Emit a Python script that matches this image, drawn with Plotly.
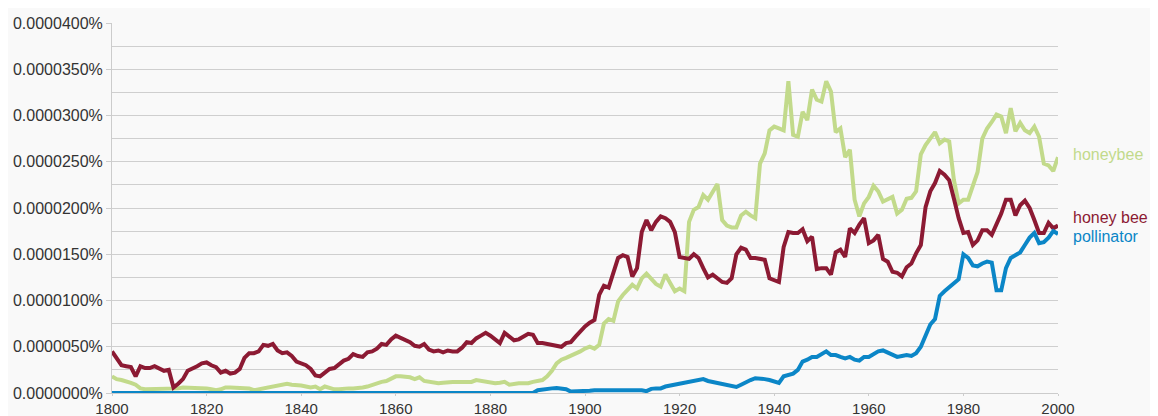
import numpy as np
import plotly.graph_objs as go

# years 1800..2000, values in units of 0.000001 %
years = list(range(1800, 2001))

honeybee = [
    1.8, 1.5, 1.4, 1.3, 1.1, 0.9, 0.5, 0.4, 0.4, 0.4,      # 1800
    0.4, 0.4, 0.4, 0.5, 0.5, 0.6, 0.6, 0.6, 0.6, 0.6,      # 1810
    0.5, 0.4, 0.3, 0.4, 0.6, 0.6, 0.6, 0.6, 0.6, 0.5,      # 1820
    0.3, 0.4, 0.5, 0.6, 0.8, 0.8, 0.9, 1.0, 0.9, 0.9,      # 1830
    0.8, 0.7, 0.6, 0.7, 0.4, 0.7, 0.5, 0.4, 0.4, 0.5,      # 1840
    0.5, 0.5, 0.5, 0.6, 0.7, 0.9, 1.0, 1.2, 1.3, 1.6,      # 1850
    1.8, 1.8, 1.8, 1.7, 1.5, 1.7, 1.3, 1.2, 1.1, 1.05,     # 1860
    1.1, 1.2, 1.2, 1.2, 1.2, 1.1, 1.2, 1.4, 1.3, 1.2,      # 1870
    1.1, 1.05, 1.1, 1.2, 0.9, 1.0, 1.05, 1.05, 1.05, 1.2,  # 1880
    1.3, 1.4, 1.8, 2.4, 3.2, 3.6, 3.8, 4.0, 4.2, 4.5,      # 1890
    4.8, 5.0, 4.8, 5.2, 7.5, 8.0, 7.8, 9.9, 10.6, 11.2,    # 1900
    11.7, 11.3, 12.4, 12.9, 12.3, 11.8, 11.5, 12.8, 11.9, 11.0,  # 1910
    11.3, 11.0, 18.5, 19.8, 20.1, 21.4, 20.9, 21.8, 22.6, 18.7,  # 1920
    18.1, 17.9, 17.9, 19.2, 19.6, 19.2, 18.9, 24.8, 25.9, 28.4,  # 1930
    28.8, 28.6, 28.4, 33.7, 27.9, 27.7, 30.4, 29.5, 32.8, 31.7,  # 1940
    31.5, 33.7, 32.6, 28.2, 28.6, 25.5, 26.3, 20.9, 19.1, 20.5,  # 1950
    21.2, 22.4, 21.8, 20.7, 20.9, 21.2, 19.4, 19.8, 21.0, 21.1,  # 1960
    21.8, 25.8, 26.8, 27.5, 28.2, 27.0, 27.4, 27.2, 23.0, 20.5,  # 1970
    20.9, 20.9, 22.3, 23.9, 27.5, 28.6, 29.3, 30.1, 29.9, 28.1,  # 1980
    30.8, 28.3, 29.2, 28.4, 28.1, 28.8, 27.7, 24.8, 24.6, 24.0,  # 1990
    25.5,
]

honey_bee = [
    4.5, 3.8, 3.0, 2.9, 2.8, 1.8, 2.9, 2.7, 2.7, 2.9,      # 1800
    2.7, 2.4, 2.5, 0.6, 1.0, 1.5, 2.4, 2.6, 2.9, 3.2,      # 1810
    3.3, 3.0, 2.8, 2.2, 2.4, 2.1, 2.2, 2.6, 3.8, 4.3,      # 1820
    4.3, 4.5, 5.2, 5.1, 5.3, 4.6, 4.3, 4.4, 4.0, 3.4,      # 1830
    3.2, 3.0, 2.6, 1.9, 1.8, 2.2, 2.6, 2.7, 3.1, 3.5,      # 1840
    3.7, 4.2, 4.0, 3.9, 4.4, 4.5, 4.8, 5.3, 5.2, 5.8,      # 1850
    6.2, 6.0, 5.8, 5.5, 5.1, 5.0, 5.3, 4.7, 4.5, 4.6,      # 1860
    4.4, 4.6, 4.5, 4.5, 4.9, 5.5, 5.4, 5.9, 6.2, 6.5,      # 1870
    6.2, 5.8, 5.4, 6.5, 6.1, 5.7, 5.8, 6.1, 6.4, 6.3,      # 1880
    5.4, 5.4, 5.3, 5.2, 5.1, 5.0, 5.4, 5.5, 6.1, 6.7,      # 1890
    7.2, 7.6, 7.9, 10.6, 11.6, 11.4, 12.9, 14.6, 14.9, 14.7,     # 1900
    12.6, 13.5, 17.4, 18.7, 17.6, 18.5, 19.1, 18.9, 18.5, 17.4,  # 1910
    14.7, 14.6, 14.5, 15.0, 14.6, 13.5, 12.5, 12.8, 12.4, 12.0,  # 1920
    11.9, 12.4, 15.0, 15.7, 15.5, 14.6, 14.6, 14.5, 14.4, 12.4,  # 1930
    12.2, 12.0, 15.8, 17.4, 17.3, 17.3, 17.7, 16.4, 16.9, 13.4,  # 1940
    13.5, 13.5, 12.8, 15.2, 15.5, 14.7, 17.8, 17.3, 18.2, 18.9,  # 1950
    16.2, 16.5, 17.1, 14.5, 14.2, 13.1, 13.0, 12.6, 13.6, 14.0,  # 1960
    15.1, 16.0, 20.1, 21.8, 22.7, 24.0, 23.6, 23.0, 21.0, 18.9,  # 1970
    17.3, 17.4, 16.0, 16.5, 17.6, 17.6, 17.1, 18.3, 19.4, 20.9,  # 1980
    20.9, 19.2, 20.3, 20.8, 20.0, 18.7, 17.3, 17.3, 18.4, 17.8,  # 1990
    18.1,
]

pollinator = [0.0] * 90 + [
    0.3, 0.4, 0.5, 0.5, 0.55, 0.5, 0.4, 0.15, 0.15, 0.15,  # 1890
    0.2, 0.25, 0.3, 0.3, 0.4, 0.4, 0.3, 0.3, 0.3, 0.3,     # 1900
    0.35, 0.4, 0.3, 0.2, 0.45, 0.5, 0.5, 0.7, 0.8, 0.9,    # 1910
    1.05, 1.2, 1.3, 1.3, 1.4, 1.5, 1.3, 1.2, 1.0, 0.9,     # 1920
    0.86, 0.8, 0.65, 0.9, 1.2, 1.4, 1.6, 1.6, 1.5, 1.4,    # 1930
    1.3, 1.1, 1.8, 2.0, 2.1, 2.5, 3.4, 3.6, 3.9, 3.9,      # 1940
    4.2, 4.5, 4.1, 4.1, 3.9, 3.75, 3.9, 3.6, 3.5, 3.9,     # 1950
    3.9, 4.2, 4.5, 4.6, 4.4, 4.1, 3.9, 4.0, 4.1, 4.0,      # 1960
    4.3, 5.0, 6.3, 7.4, 8.0, 10.5, 11.0, 11.4, 11.9, 12.3,  # 1970
    15.0, 14.6, 13.8, 13.7, 14.0, 14.2, 14.1, 11.1, 11.1, 13.5,  # 1980
    14.6, 14.9, 15.2, 16.0, 16.8, 17.3, 16.2, 16.3, 16.8, 17.5,  # 1990
    17.2,
]

series = [
    ("honeybee", honeybee, "#c2da8b", 25.8),
    ("honey bee", honey_bee, "#8c1a33", 19.0),
    ("pollinator", pollinator, "#0b86c7", 16.9),
]

fig = go.Figure()
for name, vals, color, label_y in series:
    fig.add_trace(go.Scatter(
        x=years, y=np.array(vals) * 1e-6, mode="lines", name=name,
        line=dict(color=color, width=4), showlegend=False,
    ))
    fig.add_annotation(
        x=1, xref="paper", xanchor="left", xshift=13,
        y=label_y * 1e-6, yref="y", yanchor="middle",
        text=name, showarrow=False,
        font=dict(color=color, size=16, family="Liberation Sans, Arial, sans-serif"),
    )

# page body has an 8px margin, so the figure is sized for the visible area
fig.update_layout(
    width=1150, height=408,
    margin=dict(l=104, r=100, t=15, b=23, autoexpand=False),
    paper_bgcolor="#f9f9f9", plot_bgcolor="#f9f9f9",
    font=dict(family="Liberation Sans, Arial, sans-serif", size=16, color="#333"),
)

fig.update_xaxes(
    range=[1800, 2000], tickmode="linear", tick0=1800, dtick=20,
    showgrid=False, zeroline=False, automargin=False,
    showline=True, linecolor="#ccc", linewidth=1,
    ticks="outside", ticklen=2, tickcolor="#ccc",
    tickfont=dict(size=15),
)
fig.update_yaxes(
    range=[0, 0.00004], tickmode="linear", tick0=0, dtick=0.000005,
    tickformat=".7f", ticksuffix="%", automargin=False,
    showgrid=True, gridcolor="#cfcfcf", gridwidth=1, zeroline=False,
    minor=dict(dtick=0.0000025, showgrid=True, gridcolor="#cfcfcf", ticks=""),
    showline=True, linecolor="#ccc", linewidth=1,
    ticks="outside", ticklen=5, tickcolor="#ccc",
)

fig.write_html("out.html")
